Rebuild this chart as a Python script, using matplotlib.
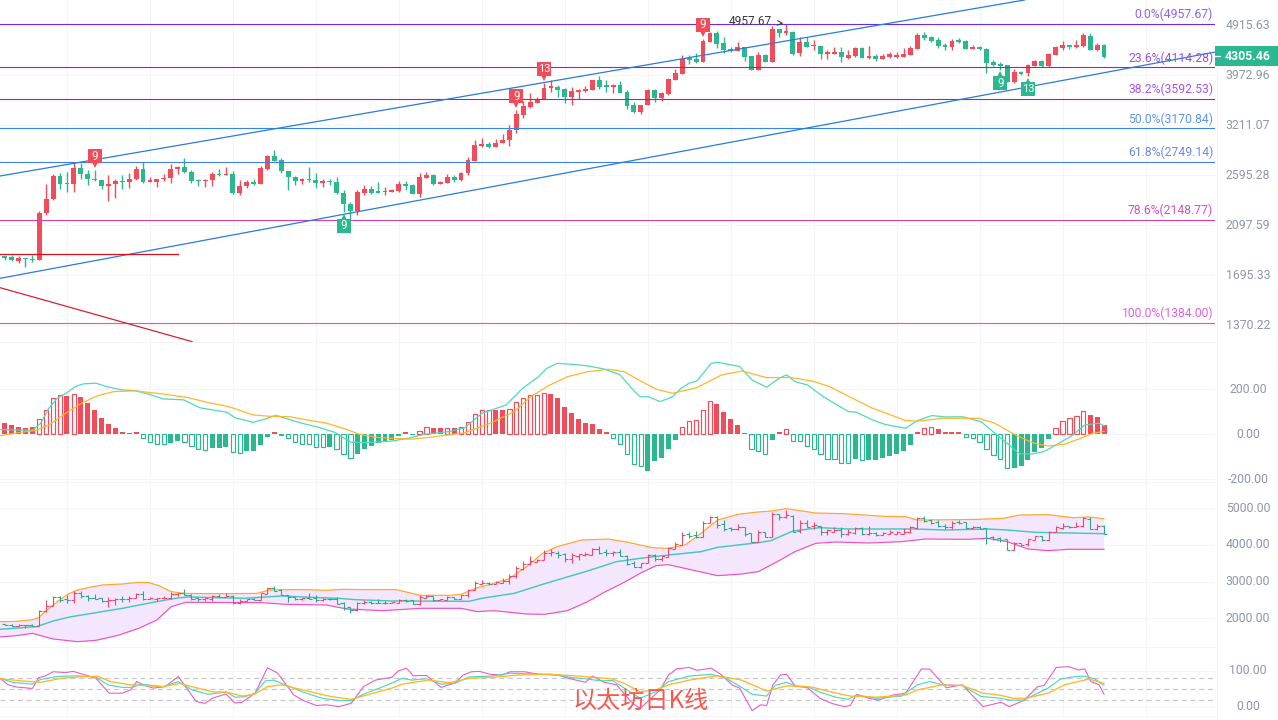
import numpy as np
import matplotlib
matplotlib.use("Agg")
import matplotlib.pyplot as plt
from matplotlib.lines import Line2D
from matplotlib.patches import Rectangle
from matplotlib.ticker import NullLocator
from matplotlib.transforms import offset_copy, ScaledTranslation

plt.rcParams['font.family'] = ['Roboto', 'DejaVu Sans']

# ---------- candles ----------
READ_CAL = 1.0064
open_read = [1832,1825,1794,1814,1809,1796,2194,2328,2574,2500,2482,2664,2593,2538,2527,2460,2482,2520,2503,2535,
 2652,2510,2510,2535,2545,2645,2675,2619,2531,2514,2524,2597,2578,2597,2395,2460,2510,2489,2652,2804,
 2756,2630,2563,2514,2542,2531,2496,2520,2510,2395,2285,2212,2395,2436,2416,2399,2406,2416,2489,2478,
 2385,2549,2586,2489,2499,2564,2524,2608,2745,2926,2951,2913,2955,2993,3131,3333,3453,3512,3567,3742,
 3754,3730,3604,3686,3696,3712,3868,3790,3760,3790,3681,3478,3380,3478,3712,3588,3650,3873,3978,4260,
 4229,4188,4553,4732,4527,4426,4389,4452,4290,4047,4308,4182,4812,4732,4760,4346,4560,4470,4483,4326,
 4326,4364,4260,4291,4433,4260,4285,4242,4272,4272,4272,4309,4420,4692,4645,4592,4496,4465,4598,4579,
 4420,4458,4420,4182,4153,4124,3845,4014,3997,4118,4200,4112,4315,4440,4490,4452,4477,4672,4401,4496]
high_read = [1840,1837,1827,1817,1837,2219,2485,2593,2600,2615,2728,2717,2634,2641,2527,2578,2542,2582,2604,2679,
 2725,2563,2538,2589,2706,2679,2780,2641,2542,2538,2612,2645,2671,2630,2524,2524,2538,2687,2816,2872,
 2776,2630,2571,2553,2671,2608,2538,2535,2560,2426,2305,2426,2474,2460,2510,2457,2433,2514,2514,2489,
 2608,2615,2590,2520,2597,2579,2619,2788,3001,3030,2976,3010,3070,3200,3409,3542,3660,3598,3824,3868,
 3797,3742,3755,3730,3772,3880,3945,3873,3808,3862,3707,3532,3483,3723,3723,3686,3912,4052,4308,4308,
 4352,4620,4752,4765,4644,4452,4547,4452,4290,4364,4320,4868,4812,4926,4780,4644,4644,4600,4483,4401,
 4464,4464,4401,4465,4465,4477,4321,4321,4364,4358,4440,4471,4726,4745,4672,4645,4541,4605,4632,4598,
 4496,4477,4433,4211,4182,4130,4053,4025,4141,4211,4223,4340,4483,4566,4496,4598,4726,4733,4541,4515]
low_read = [1801,1794,1776,1743,1781,1796,2175,2325,2430,2402,2406,2538,2471,2520,2436,2309,2338,2429,2443,2531,
 2492,2503,2450,2514,2500,2597,2608,2492,2467,2457,2467,2567,2578,2385,2372,2446,2478,2489,2641,2740,
 2608,2426,2478,2482,2510,2443,2457,2478,2382,2203,2141,2181,2368,2385,2392,2368,2399,2399,2426,2378,
 2355,2549,2472,2482,2496,2502,2517,2579,2745,2913,2897,2913,2955,2918,3088,3300,3443,3507,3567,3686,
 3609,3512,3488,3567,3686,3712,3730,3686,3660,3665,3419,3366,3352,3478,3532,3547,3634,3868,3978,4147,
 4159,4188,4553,4437,4352,4358,4376,4205,4042,4042,4176,4182,4644,4692,4314,4290,4452,4401,4240,4229,
 4320,4188,4229,4266,4248,4242,4200,4229,4254,4260,4266,4303,4414,4592,4547,4446,4401,4395,4541,4414,
 4414,4407,3990,4118,4047,3845,3830,3963,3941,4107,4090,4100,4315,4401,4420,4446,4465,4401,4383,4260]
close_read = [1817,1796,1817,1804,1796,2200,2332,2574,2489,2482,2664,2589,2535,2524,2460,2485,2520,2503,2538,2652,
 2510,2531,2538,2553,2649,2675,2612,2514,2517,2531,2597,2578,2597,2395,2467,2510,2489,2664,2804,2740,
 2622,2556,2514,2542,2524,2492,2514,2503,2389,2279,2212,2402,2436,2395,2395,2416,2426,2489,2467,2385,
 2563,2586,2489,2506,2564,2524,2608,2756,2938,2947,2913,2959,2997,3126,3352,3463,3527,3567,3748,3772,
 3712,3598,3691,3718,3730,3868,3755,3760,3790,3670,3463,3380,3483,3712,3588,3665,3890,3990,4241,4223,
 4182,4566,4732,4520,4401,4389,4452,4278,4047,4308,4182,4812,4732,4772,4320,4560,4464,4502,4326,4364,
 4364,4266,4308,4433,4260,4291,4229,4291,4321,4315,4327,4446,4685,4625,4573,4477,4465,4573,4560,4420,
 4458,4414,4170,4130,4118,3845,4014,3980,4124,4200,4112,4327,4458,4496,4452,4496,4685,4401,4496,4278]

# ---------- Fibonacci levels ----------
fib_levels = [4957.67, 4114.28, 3592.53, 3170.84, 2749.14, 2148.77, 1384.00]
fib_labels = ['0.0%(4957.67)', '23.6%(4114.28)', '38.2%(3592.53)', '50.0%(3170.84)',
              '61.8%(2749.14)', '78.6%(2148.77)', '100.0%(1384.00)']
fib_line_colors = ['#6a2be0', '#9a20d0', '#9a20d0', '#2f86f0', '#3f7fe8', '#d040b8', '#e050d0']
fib_text_colors = ['#8a63f0', '#a04fe0', '#a855e8', '#5d93f0', '#6a8ae8', '#d850b4', '#e062d8']

# ---------- trend lines ----------
upper_channel_x, upper_channel_y = [-0.65, 147.5], [2589, 5480]
lower_channel_x, lower_channel_y = [-0.65, 175.1], [1674, 4391]
red_flat_x, red_flat_y = [-0.65, 25.1], [1855, 1855]
red_diag_x, red_diag_y = [-0.65, 27.1], [1608, 1278]

# ---------- TD markers: candle, text, side ----------
td_index = [13, 74, 78, 101, 49, 144, 148]
td_text = ['9', '9', '13', '9', '9', '9', '13']
td_side = ['up', 'up', 'up', 'up', 'down', 'down', 'down']

price_ticks = [4915.63, 3972.96, 3211.07, 2595.28, 2097.59, 1695.33, 1370.22]
price_tick_labels = ['4915.63', '3972.96', '3211.07', '2595.28', '2097.59', '1695.33', '1370.22']

# ---------- MACD ----------
macd_hist = [49,41,33,28,31,67,107,160,173,170,178,166,138,108,73,46,28,10,4,10,
 -15,-33,-41,-44,-39,-28,-33,-50,-64,-68,-61,-61,-56,-77,-81,-74,-74,-47,-12,9,
 -6,-18,-36,-41,-44,-55,-55,-55,-64,-86,-104,-86,-64,-50,-40,-33,-24,-6,9,-3,
 16,31,28,28,27,28,33,53,89,107,107,108,108,113,142,160,175,175,182,179,
 161,121,95,68,50,44,24,10,-15,-41,-89,-133,-141,-164,-117,-104,-65,-25,31,59,
 64,107,147,135,99,68,41,6,-64,-73,-89,-25,10,22,-28,-30,-50,-64,-89,-108,
 -110,-126,-126,-108,-113,-113,-113,-104,-95,-87,-74,-47,9,27,31,22,9,12,9,-10,
 -18,-33,-67,-93,-111,-148,-148,-139,-113,-80,-59,-19,27,58,71,80,102,84,77,40]
macd_hollow = [0,0,0,0,0,1,1,1,1,0,1,0,0,0,0,0,0,0,0,0,
 1,1,1,1,0,0,1,1,1,1,0,0,0,1,1,0,0,0,0,0,
 0,1,1,1,1,1,1,0,1,1,1,0,0,0,0,0,0,0,0,0,
 1,1,0,0,1,0,1,1,1,1,1,0,0,1,1,1,1,1,1,0,
 0,0,0,0,0,0,0,0,1,1,1,1,1,0,0,0,0,0,1,1,
 1,1,1,0,0,0,0,0,1,1,1,0,0,1,1,1,1,1,1,1,
 1,1,1,0,1,0,0,0,0,0,0,0,0,1,1,0,0,0,0,1,
 1,1,1,1,1,1,0,0,0,0,0,0,1,1,1,1,1,0,0,0]

dif_x = [-0.7,1.7,4.0,5.2,6.4,7.6,9.1,10.2,11.4,13.2,14.7,17.0,18.8,21.2,22.9,25.9,28.2,32.1,33.3,35.9,37.7,39.2,40.6,43.0,45.4,47.7,50.1,52.4,56.0,58.3,60.7,64.3,66.6,69.0,72.5,74.9,77.2,78.4,79.9,82.0,84.3,86.7,89.0,91.1,
 91.9,93.1,94.8,96.6,97.8,99.0,100.1,102.2,103.1,106.3,108.1,110.2,112.0,113.1,114.3,116.1,118.4,122.0,123.2,125.5,127.3,130.3,132.0,134.1,136.2,138.5,141.2,143.8,146.8,148.6,150.3,152.1,154.5,156.2,158.3,159.0]
dif = [21,19,18,49,116,160,187,212,224,227,212,197,194,175,157,153,118,98,74,53,68,84,71,49,31,9,-36,-37,-30,-18,0,12,30,93,130,204,256,293,315,311,304,290,264,190,
 167,167,145,167,204,227,237,315,320,301,241,209,249,264,234,219,167,101,98,64,44,27,61,83,77,78,56,-10,-87,-87,-77,-47,-3,41,49,37]
dea_x = [-0.7,1.7,4.6,6.4,8.8,11.1,13.5,15.8,18.8,22.9,26.5,29.4,32.4,35.9,38.3,41.2,44.2,46.5,49.5,51.3,54.2,58.9,61.9,66.6,70.2,73.7,76.1,78.4,81.4,84.3,87.3,89.6,91.9,
 94.2,96.6,100.1,103.7,106.6,110.2,113.7,116.7,119.3,122.6,125.5,127.9,130.3,132.0,135.6,140.9,143.2,146.2,148.6,150.9,153.3,155.6,157.4,159.0]
dea = [-7,6,18,41,93,138,172,190,193,179,163,141,123,86,80,78,61,50,21,0,-15,-22,-12,7,49,101,167,212,256,278,289,278,238,
 201,182,207,264,281,252,252,237,212,160,116,89,61,58,71,71,49,-3,-37,-52,-44,-18,4,13]

# ---------- Bollinger ----------
boll_up_x = [-0.7,1.7,4.0,4.9,6.1,7.6,9.1,10.5,12.0,14.1,17.0,19.4,20.9,22.3,24.1,25.9,28.8,32.4,36.5,38.3,40.6,43.6,46.5,48.9,52.4,56.6,58.3,60.1,64.3,66.0,68.1,70.2,72.8,75.5,77.8,79.9,83.4,87.3,90.2,91.9,
 93.7,96.0,98.4,100.7,103.1,106.0,108.4,110.8,113.1,117.3,121.4,127.3,130.3,132.0,137.9,140.9,144.4,146.8,150.9,154.5,156.8,159.0]
boll_up = [1914,1923,1968,2023,2231,2457,2656,2774,2837,2910,2937,2982,2973,2891,2729,2683,2674,2674,2683,2774,2783,2783,2765,2792,2783,2783,2710,2629,2629,2656,2819,2928,3063,3407,3769,3950,4131,4158,4068,3996,
 3923,3905,3996,4312,4674,4828,4882,4919,4982,4864,4846,4774,4765,4674,4683,4692,4720,4810,4819,4738,4756,4710]
boll_mid_x = [-0.7,4.6,7.0,9.4,13.5,17.0,21.2,24.7,26.5,34.7,40.0,44.2,48.3,50.7,56.0,67.2,69.0,73.7,77.8,84.3,88.5,91.9,
 96.0,100.7,103.1,109.0,110.8,114.0,117.9,122.0,131.4,136.2,142.1,145.0,149.1,159.0]
boll_mid = [1706,1778,1932,2041,2167,2276,2430,2548,2584,2548,2611,2575,2548,2511,2475,2466,2548,2683,2928,3290,3543,3633,
 3724,3814,3932,4059,4113,4376,4466,4430,4430,4403,4430,4403,4339,4303]
boll_dn_x = [-0.7,1.7,4.0,7.0,10.5,13.2,16.4,19.4,22.0,24.1,26.2,37.1,40.6,46.5,49.5,54.8,60.1,66.0,68.4,70.7,75.5,78.1,81.4,84.3,86.7,89.6,91.9,
 94.2,96.0,99.0,103.1,106.6,109.0,112.0,114.3,117.3,120.2,125.0,129.7,133.2,139.1,142.1,145.0,148.0,150.9,153.9,159.0]
boll_dn = [1498,1534,1597,1443,1371,1407,1543,1733,1959,2321,2439,2430,2385,2367,2258,2213,2276,2276,2186,2213,2122,2113,2213,2457,2710,2982,3226,
 3434,3461,3335,3163,3208,3272,3570,3815,4041,4077,4050,4086,4158,4149,4177,4086,3887,3842,3878,3878]

# ---------- KDJ ----------
j_x = [-0.7,0.5,1.7,4.0,4.9,5.8,7.0,8.8,9.9,11.7,13.2,15.1,17.0,18.2,19.1,20.0,21.5,23.2,25.1,26.5,27.7,29.0,30.0,32.0,33.3,34.3,36.2,38.0,39.5,41.8,43.3,45.1,46.5,48.3,50.1,51.9,53.6,56.0,56.9,58.1,59.1,61.0,63.1,65.1,66.3,67.5,68.7,70.2,71.9,73.1,75.2,77.2,80.2,81.1,84.0,85.0,86.7,88.5,90.8,91.9,
 94.8,96.0,97.2,99.0,100.1,102.2,103.7,105.2,106.3,108.1,109.3,110.2,111.1,112.2,113.1,114.3,116.1,117.9,119.6,121.4,122.3,123.2,125.0,126.4,128.5,130.3,132.6,133.8,136.2,138.5,141.5,144.1,145.3,147.4,149.4,150.3,152.1,153.9,155.3,156.2,157.1,158.3,159.0]
j_vals = [79,61,55,51,81,85,97,95,98,88,79,38,38,47,70,61,52,56,84,47,15,10,24,36,11,13,38,108,93,33,17,4,6,1,10,56,74,82,99,107,86,87,54,66,88,97,98,90,88,97,97,90,88,81,68,85,68,61,10,-4,
 47,88,105,109,101,107,88,61,52,-10,6,4,61,88,90,58,53,24,10,1,4,35,24,19,33,38,105,104,53,61,1,13,1,18,56,59,109,111,102,105,70,61,35]
k_x = [-0.7,1.1,4.0,5.2,7.6,10.5,13.2,14.9,17.0,18.5,19.7,22.9,25.1,27.1,29.4,32.1,33.3,34.7,36.2,37.7,38.9,40.6,43.0,45.9,48.3,50.1,51.9,55.4,57.5,58.9,61.0,63.1,65.1,67.2,70.2,73.1,76.1,79.0,82.0,84.3,86.1,87.9,89.6,91.9,
 94.2,96.0,99.0,102.2,104.3,106.0,108.1,110.2,111.4,113.1,114.3,116.1,117.9,120.2,122.0,123.2,126.1,129.7,132.0,133.8,135.6,138.5,141.2,144.1,145.3,147.4,149.4,150.9,152.7,154.5,156.2,157.7,159.0]
k_vals = [79,68,63,76,84,86,82,61,54,54,63,56,70,47,35,41,27,28,38,72,74,61,42,24,18,18,35,61,79,74,78,63,65,83,85,93,91,90,81,77,72,73,52,24,
 42,70,85,90,79,61,35,30,59,68,58,56,41,27,21,33,24,30,61,70,61,59,29,24,19,19,38,52,77,83,85,77,59]
d_x = [-0.7,2.3,5.2,8.2,11.7,13.5,15.3,18.2,22.9,25.3,27.7,30.0,32.1,34.4,36.2,38.0,40.0,44.2,47.1,50.1,56.0,57.5,61.3,64.3,67.2,70.7,74.3,79.0,83.1,87.9,89.6,91.9,
 94.2,96.0,99.0,103.1,106.6,110.2,113.1,116.7,119.6,122.3,126.1,130.3,132.0,135.6,138.5,141.5,143.8,145.9,147.7,150.9,153.3,156.8,159.0]
d_vals = [78,72,68,79,84,84,70,61,56,65,53,42,41,30,36,56,61,42,29,21,52,63,74,67,79,82,88,90,85,77,65,42,
 47,61,74,86,74,44,58,55,41,30,27,33,47,61,59,38,33,24,24,38,61,77,65]
kdj_levels = [80, 50, 20]

# ---------- styles ----------
W, H = 1278, 720
RED, GREEN = '#f04c5a', '#2bb78f'
GRID = '#f4f5f7'
TICK = '#8e98a8'
TEAL, ORANGE, PINK = '#4fd9bb', '#ffb62b', '#ea5cc8'
AX_R = 1215

open_, high_, low_, close_ = [np.array(a, float) * READ_CAL for a in (open_read, high_read, low_read, close_read)]
idx = np.arange(len(open_))
up = close_ >= open_

fig = plt.figure(figsize=(W / 100, H / 100), dpi=100, facecolor='white')


def pane(top, bottom):
    ax = fig.add_axes([0, 1 - bottom / H, AX_R / W, (bottom - top) / H])
    ax.set_xlim(-0.684, 175.05)
    for s in ax.spines.values():
        s.set_visible(False)
    ax.set_xticks(np.arange(9, 176, 12))
    ax.tick_params(axis='x', length=0, labelbottom=False)
    ax.tick_params(axis='y', length=0, right=False, left=False, labelright=True, labelleft=False,
                   pad=23.8, labelsize=8.8, labelcolor=TICK)
    ax.grid(True, color=GRID, lw=0.8)
    ax.set_axisbelow(True)
    ax.patch.set_alpha(0)
    return ax


def set_ticks(ax, ticks, labels):
    ax.yaxis.set_minor_locator(NullLocator())
    ax.set_yticks(ticks)
    ax.set_yticklabels(labels)
    lift = ScaledTranslation(0, 1.5 / 100, fig.dpi_scale_trans)
    for tick in ax.yaxis.get_major_ticks():
        lab = tick.label2
        lab.set_ha('center')
        lab.set_transform(lab.get_transform() + lift)


# ---- price pane ----
ax = pane(0, 342)
ax.set_yscale('log')
ax.set_ylim(1276, 5480)
set_ticks(ax, price_ticks, price_tick_labels)
cols = np.where(up, RED, GREEN)
ax.vlines(idx, low_, high_, colors=cols, lw=1.0, zorder=3)
ax.bar(idx, np.abs(close_ - open_), bottom=np.minimum(open_, close_), width=0.7, color=cols, lw=0, zorder=4)

for lev, line_c, txt, txt_c in zip(fib_levels, fib_line_colors, fib_labels, fib_text_colors):
    ax.axhline(lev, color=line_c, lw=0.8, zorder=5)
    ax.annotate(txt, xy=(1, lev), xycoords=ax.get_yaxis_transform(), xytext=(-1.3, 6.8),
                textcoords='offset points', ha='right', va='center', color=txt_c, fontsize=8.7, zorder=6)

ax.plot(upper_channel_x, upper_channel_y, color='#2a7bdc', lw=0.9, zorder=5)
ax.plot(lower_channel_x, lower_channel_y, color='#2a7bdc', lw=0.9, zorder=5)
ax.plot(red_flat_x, red_flat_y, color='#d80f1e', lw=0.9, zorder=5)
ax.plot(red_diag_x, red_diag_y, color='#d82030', lw=0.9, zorder=5)

for i, label, side in zip(td_index, td_text, td_side):
    sign = 1 if side == 'up' else -1
    base = high_[i] if side == 'up' else low_[i]
    col = RED if side == 'up' else GREEN
    box = offset_copy(ax.transData, fig=fig, x=0, y=sign * 9.8, units='points')
    tip = offset_copy(ax.transData, fig=fig, x=0, y=sign * 3.4, units='points')
    ax.plot([i], [base], marker='s', ms=10.0, mew=0, color=col, transform=box, zorder=7, ls='none')
    ax.plot([i], [base], marker='v' if side == 'up' else '^', ms=4.5, mew=0, color=col, transform=tip, zorder=7, ls='none')
    ax.annotate(label, xy=(i, base), xytext=(0, sign * 9.8), textcoords='offset points', ha='center', va='center',
                color='white', fontsize=8.4 if len(label) == 1 else 8.0, zorder=8)

ax.annotate('4957.67', xy=(113, fib_levels[0]), xytext=(-10, 1.8), textcoords='offset points', ha='right', va='center',
            color='#333a45', fontsize=8.6, zorder=8,
            arrowprops=dict(arrowstyle='->', color='#333a45', lw=0.7, shrinkA=4, shrinkB=2))

# price flag (drawn under the axes so that its text stays on top)
fig.add_artist(Rectangle((AX_R / W, 1 - 65.7 / H), (W - AX_R) / W, 19.7 / H, transform=fig.transFigure,
                         fc=GREEN, ec='none', zorder=-2))
fig.add_artist(Line2D([AX_R / W, (AX_R + 5) / W], [1 - 56 / H] * 2, color='white', lw=0.9, zorder=-1))
ax.annotate('4305.46', xy=(1, close_[-1]), xycoords=ax.get_yaxis_transform(), xytext=(23.8, 0),
            textcoords='offset points', ha='center', va='center', color='white', fontsize=8.8,
            fontweight='bold', annotation_clip=False, zorder=10)

# ---- MACD pane ----
ax2 = pane(342, 482)
ax2.set_ylim(-212, 410)
set_ticks(ax2, [200, 0, -200], ['200.00', '0.00', '-200.00'])
hist = np.array(macd_hist, float)
hollow = np.array(macd_hollow, bool)
hcol = np.where(hist >= 0, RED, GREEN)
ax2.bar(idx[~hollow], hist[~hollow], width=0.72, color=hcol[~hollow], lw=0, zorder=3)
ax2.bar(idx[hollow], hist[hollow], width=0.62, facecolor='none', edgecolor=hcol[hollow], lw=0.85, zorder=3)
ax2.plot(dif_x, dif, color=TEAL, lw=0.9, zorder=4)
ax2.plot(dea_x, dea, color=ORANGE, lw=0.9, zorder=4)

# ---- Bollinger pane ----
ax3 = pane(482, 646.7)
ax3.set_ylim(1234, 5706)
set_ticks(ax3, [5000, 4000, 3000, 2000], ['5000.00', '4000.00', '3000.00', '2000.00'])
ax3.fill(np.r_[boll_up_x, boll_dn_x[::-1]], np.r_[boll_up, boll_dn[::-1]], color='#f3e6fd', lw=0, zorder=2)
ax3.plot(boll_up_x, boll_up, color='#ffa726', lw=0.85, zorder=3)
ax3.plot(boll_dn_x, boll_dn, color='#ee50c0', lw=0.85, zorder=3)
ax3.plot(boll_mid_x, boll_mid, color='#45c8bc', lw=1.05, zorder=3)
bar_cols = np.where(up, '#f0486c', '#2ba88c')
ax3.vlines(idx, low_, high_, colors=bar_cols, lw=0.8, zorder=4)
ax3.hlines(open_, idx - 0.45, idx, colors=bar_cols, lw=0.8, zorder=4)
ax3.hlines(close_, idx, idx + 0.45, colors=bar_cols, lw=0.8, zorder=4)

# ---- KDJ pane ----
ax4 = pane(646.7, 716)
ax4.set_ylim(-24.8, 166)
set_ticks(ax4, [100, 0], ['100.00', '0.00'])
for lev in kdj_levels:
    ax4.axhline(lev, color='#c8c8c8', lw=0.9, dashes=(4, 3), zorder=2)
ax4.plot(j_x, j_vals, color=PINK, lw=0.8, zorder=3)
ax4.plot(k_x, k_vals, color=TEAL, lw=0.85, zorder=3)
ax4.plot(d_x, d_vals, color=ORANGE, lw=0.95, zorder=3)

# pane separators and right axis rule
for y in (342, 482, 646.7, 716):
    fig.add_artist(Line2D([0, AX_R / W], [1 - y / H] * 2, color=GRID, lw=0.8))
fig.add_artist(Line2D([(AX_R + 1.5) / W] * 2, [1 - 720 / H, 1 - 66 / H], color=GRID, lw=0.8))
fig.add_artist(Line2D([1277.5 / W] * 2, [1 - 370 / H, 1 - 335 / H], color='#dddddd', lw=0.9))

fig.text(640.5 / W, 1 - 701 / H, '以太坊日K线', ha='center', va='center', color='#f5594f', fontsize=17.4,
         family=['Noto Sans CJK SC', 'DejaVu Sans'], zorder=20)

fig.savefig('out.png', dpi=100, facecolor='white')
